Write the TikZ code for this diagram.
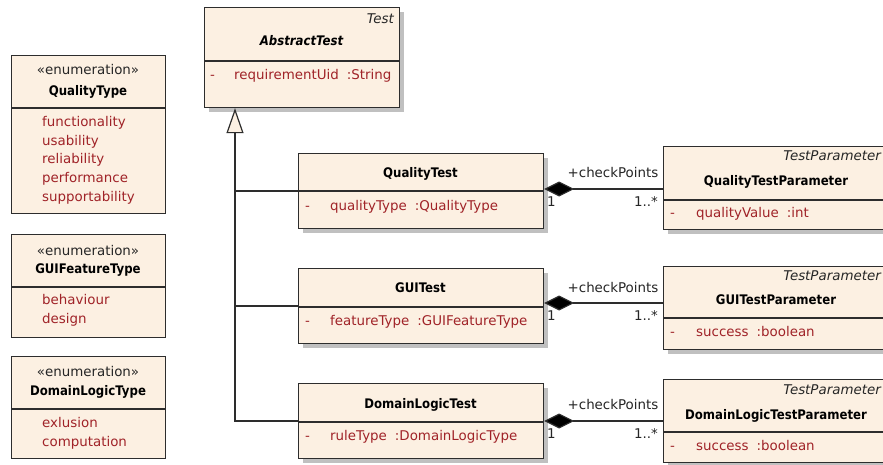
\documentclass[tikz,border=0pt]{standalone}
\usepackage{fontspec}
\setmainfont{DejaVu Sans}
\newfontfamily\clsfam[FakeStretch=0.89]{DejaVu Sans}
\usetikzlibrary{arrows.meta,shadows}

\definecolor{cream}{RGB}{252,240,226}
\definecolor{edge}{RGB}{45,45,45}
\definecolor{attr}{RGB}{160,35,40}
\definecolor{shade}{RGB}{192,192,192}

\newcommand\regtext{\fontsize{13.4}{15}\selectfont}
\newcommand\boldtext{\clsfam\fontsize{13.2}{15}\selectfont\bfseries}
\newcommand\gap{\hspace{8pt}}

\begin{document}
\begin{tikzpicture}[x=1pt,y=-1pt,
  box/.style={draw=edge, line width=1.2pt, fill=cream, anchor=north west, inner sep=0pt},
  shbox/.style={box, drop shadow={shadow xshift=4pt, shadow yshift=-4pt, fill=shade, opacity=1}},
  divider/.style={draw=edge, line width=1.2pt},
  stereo/.style={font=\regtext, text=black!85, anchor=mid, inner sep=0pt},
  cname/.style={font=\boldtext, text=black, anchor=mid, inner sep=0pt},
  item/.style={font=\regtext, text=attr, anchor=mid west, inner sep=0pt},
  tagtext/.style={font=\regtext\itshape, text=black!85, anchor=mid east, inner sep=0pt},
  lbl/.style={font=\regtext, text=black!85, inner sep=0pt},
  comp/.style={draw=edge, line width=1.2pt, {Diamond[length=30pt,width=15pt,fill=black]}-},
  genl/.style={draw=edge, line width=1.2pt, -{Triangle[length=25pt,width=17pt,fill=cream]}},
  tree/.style={draw=edge, line width=1.2pt}
]
\clip (0,0) rectangle (883,464);
\fill[white] (0,0) rectangle (883,464);

% ---------- enumerations ----------
\node[box, minimum width=154pt, minimum height=158pt] (qtype) at (11,55) {};
\draw[divider] ([yshift=-53pt]qtype.north west) -- ([yshift=-53pt]qtype.north east);
\node[stereo] (qtypeS) at (88,72) {«enumeration»};
\node[cname]  (qtypeN) at (88,93) {QualityType};
\node[item] (qt1) at (42,124) {functionality};
\node[item] (qt2) at (42,143) {usability};
\node[item] (qt3) at (42,161) {reliability};
\node[item] (qt4) at (42,180) {performance};
\node[item] (qt5) at (42,199) {supportability};

\node[box, minimum width=154pt, minimum height=103pt] (gtype) at (11,234) {};
\draw[divider] ([yshift=-53pt]gtype.north west) -- ([yshift=-53pt]gtype.north east);
\node[stereo] (gtypeS) at (88,253) {«enumeration»};
\node[cname]  (gtypeN) at (88,271) {GUIFeatureType};
\node[item] (gt1) at (42,302) {behaviour};
\node[item] (gt2) at (42,321) {design};

\node[box, minimum width=154pt, minimum height=102pt] (dtype) at (11,356) {};
\draw[divider] ([yshift=-53pt]dtype.north west) -- ([yshift=-53pt]dtype.north east);
\node[stereo] (dtypeS) at (88,374) {«enumeration»};
\node[cname]  (dtypeN) at (88,393) {DomainLogicType};
\node[item] (dt1) at (42,425) {exlusion};
\node[item] (dt2) at (42,444) {computation};

% ---------- abstract base class ----------
\node[shbox, minimum width=195pt, minimum height=100pt] (abs) at (204,7) {};
\draw[divider] ([yshift=-54pt]abs.north west) -- ([yshift=-54pt]abs.north east);
\node[tagtext] (absT) at (394,21) {Test};
\node[cname, font=\boldtext\itshape] (absN) at (301.5,43) {AbstractTest};
\node[item] (absD) at (210,77) {-};
\node[item] (absA) at (234,77) {requirementUid\gap:String};

% ---------- test classes ----------
\node[shbox, minimum width=245pt, minimum height=75pt] (qtest) at (298,153) {};
\draw[divider] ([yshift=-38pt]qtest.north west) -- ([yshift=-38pt]qtest.north east);
\node[cname] (qtestN) at (420.5,175) {QualityTest};
\node[item] (qtestD) at (305,208) {-};
\node[item] (qtestA) at (330,208) {qualityType\gap:QualityType};

\node[shbox, minimum width=245pt, minimum height=75pt] (gtest) at (298,268) {};
\draw[divider] ([yshift=-39pt]gtest.north west) -- ([yshift=-39pt]gtest.north east);
\node[cname] (gtestN) at (420.5,290) {GUITest};
\node[item] (gtestD) at (305,323) {-};
\node[item] (gtestA) at (330,323) {featureType\gap:GUIFeatureType};

\node[shbox, minimum width=245pt, minimum height=75pt] (dtest) at (298,383) {};
\draw[divider] ([yshift=-39pt]dtest.north west) -- ([yshift=-39pt]dtest.north east);
\node[cname] (dtestN) at (420.5,406) {DomainLogicTest};
\node[item] (dtestD) at (305,438) {-};
\node[item] (dtestA) at (330,438) {ruleType\gap:DomainLogicType};

% ---------- test parameter classes ----------
\node[shbox, minimum width=226pt, minimum height=83pt] (qpar) at (663,146) {};
\draw[divider] ([yshift=-54pt]qpar.north west) -- ([yshift=-54pt]qpar.north east);
\node[tagtext] (qparT) at (881,158) {TestParameter};
\node[cname] (qparN) at (776,183) {QualityTestParameter};
\node[item] (qparD) at (670,215) {-};
\node[item] (qparA) at (696,215) {qualityValue\gap:int};

\node[shbox, minimum width=226pt, minimum height=83pt] (gpar) at (663,266) {};
\draw[divider] ([yshift=-52pt]gpar.north west) -- ([yshift=-52pt]gpar.north east);
\node[tagtext] (gparT) at (881,278) {TestParameter};
\node[cname] (gparN) at (776,302) {GUITestParameter};
\node[item] (gparD) at (670,334) {-};
\node[item] (gparA) at (696,334) {success\gap:boolean};

\node[shbox, minimum width=226pt, minimum height=83pt] (dpar) at (663,379) {};
\draw[divider] ([yshift=-53pt]dpar.north west) -- ([yshift=-53pt]dpar.north east);
\node[tagtext] (dparT) at (881,392) {TestParameter};
\node[cname] (dparN) at (776,417) {DomainLogicTestParameter};
\node[item] (dparD) at (670,448) {-};
\node[item] (dparA) at (696,448) {success\gap:boolean};

% ---------- generalization tree ----------
\coordinate (gtip) at ([xshift=31pt]abs.south west);
\coordinate (qjoin) at ([yshift=-38pt]qtest.north west);
\coordinate (gjoin) at ([yshift=-38pt]gtest.north west);
\coordinate (djoin) at ([yshift=-38pt]dtest.north west);
\draw[genl] (djoin) -| (gtip);
\draw[tree] (qjoin) -- (qjoin -| gtip);
\draw[tree] (gjoin) -- (gjoin -| gtip);

% ---------- compositions ----------
\coordinate (qfrom) at ([yshift=-36pt]qtest.north east);
\coordinate (gfrom) at ([yshift=-35pt]gtest.north east);
\coordinate (dfrom) at ([yshift=-38pt]dtest.north east);
\draw[comp] (qfrom) -- (qfrom -| qpar.west);
\draw[comp] (gfrom) -- (gfrom -| gpar.west);
\draw[comp] (dfrom) -- (dfrom -| dpar.west);

\node[lbl] (qcp) at (613,172) {+checkPoints};
\node[lbl] (gcp) at (613,287) {+checkPoints};
\node[lbl] (dcp) at (613,404) {+checkPoints};
\node[lbl, anchor=mid west] (qone) at (547,204) {1};
\node[lbl, anchor=mid west] (gone) at (547,318) {1};
\node[lbl, anchor=mid west] (done) at (547,436) {1};
\node[lbl, anchor=mid east] (qmany) at (658,204) {1..*};
\node[lbl, anchor=mid east] (gmany) at (658,318) {1..*};
\node[lbl, anchor=mid east] (dmany) at (658,436) {1..*};
\end{tikzpicture}
\end{document}
